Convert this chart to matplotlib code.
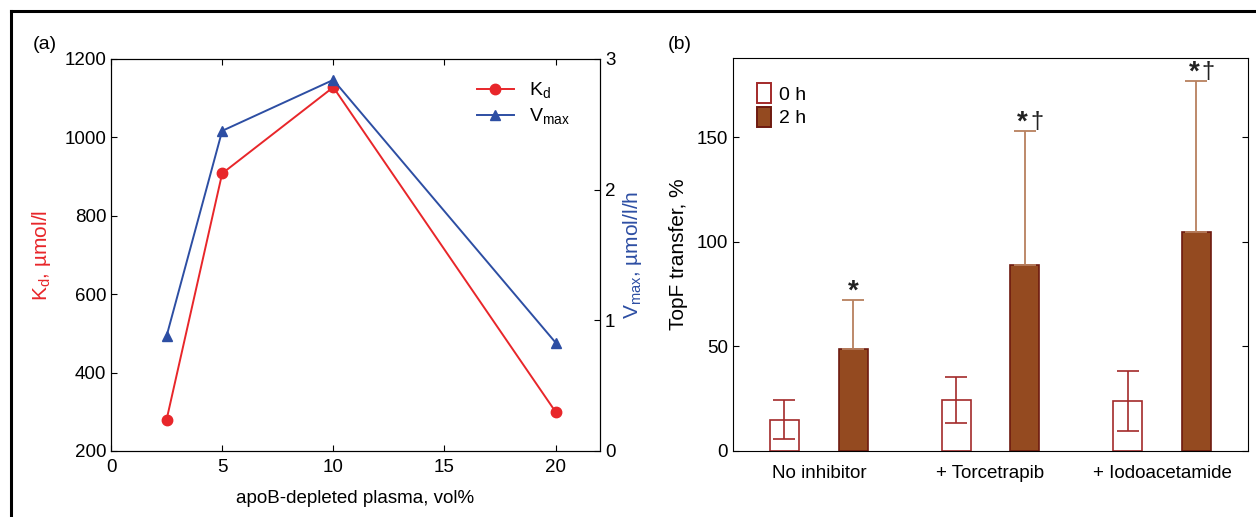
import numpy as np
import matplotlib
matplotlib.use("Agg")
import matplotlib.pyplot as plt
from matplotlib.patches import Patch
from matplotlib.lines import Line2D

plt.rcParams['font.family'] = ['Liberation Sans', 'DejaVu Sans']

# Panel (a) data
plasma = [2.5, 5, 10, 20]
kd = [280, 908, 1128, 300]
vmax = [0.88, 2.45, 2.84, 0.83]

# Panel (b) data
groups = ["No inhibitor", "+ Torcetrapib", "+ Iodoacetamide"]
mean_0h = [15, 24.5, 24]
sd_0h = [9.3, 11, 14.3]
mean_2h = [49, 89, 105]
sd_2h = [23, 64, 72]
marks = ["*", "*†", "*†"]

red = "#e8262a"
blue = "#2d4ea3"
brown = "#944a20"
dark = "#6e1a10"
open_edge = "#a32a2a"
err_2h = "#b8805e"

fig = plt.figure(figsize=(12.56, 5.17), dpi=100)

# figure frame (top and left only)
fig.add_artist(Line2D([0.009, 1.0], [0.978, 0.978], color="black", lw=2.2))
fig.add_artist(Line2D([0.009, 0.009], [0.0, 0.978], color="black", lw=2.2))

# ---- panel (a)
ax1 = fig.add_axes([0.0884, 0.1277, 0.3893, 0.7582])
ax2 = ax1.twinx()
l1, = ax1.plot(plasma, kd, color=red, marker="o", ms=7.5, lw=1.4, label="K$_\\mathregular{d}$")
l2, = ax2.plot(plasma, vmax, color=blue, marker="^", ms=7.5, lw=1.4, label="V$_\\mathregular{max}$")
ax1.set_xlim(0, 22)
ax1.set_ylim(200, 1200)
ax2.set_ylim(0, 3)
ax1.set_xticks([0, 5, 10, 15, 20])
ax1.set_yticks([200, 400, 600, 800, 1000, 1200])
ax2.set_yticks([0, 1, 2, 3])
ax1.tick_params(direction="in", top=True, labelsize=13.5, length=4)
ax2.tick_params(direction="in", labelsize=13.5, length=4)
ax1.tick_params(axis="x", pad=6)
ax1.set_xlabel("apoB-depleted plasma, vol%", fontsize=13.5, labelpad=10)
ax1.set_ylabel("K$_\\mathregular{d}$, µmol/l", fontsize=15, color=red, labelpad=8)
ax2.set_ylabel("V$_\\mathregular{max}$, µmol/l/h", fontsize=15, color=blue, labelpad=4)
ax1.legend(handles=[l1, l2], loc="upper right", bbox_to_anchor=(0.975, 0.99),
           frameon=False, fontsize=14, handlelength=1.9, labelspacing=0.3)
fig.text(0.026, 0.905, "(a)", fontsize=14)

# ---- panel (b)
ax3 = fig.add_axes([0.5836, 0.1277, 0.41, 0.7601])
x = np.arange(len(groups))
w = 0.17
off = 0.2
ax3.bar(x - off, mean_0h, w, facecolor="white", edgecolor=open_edge, lw=1.2,
        yerr=sd_0h, error_kw=dict(ecolor=open_edge, elinewidth=1.2, capsize=8, capthick=1.2))
ax3.bar(x + off, mean_2h, w, facecolor=brown, edgecolor=dark, lw=1.2)
ax3.errorbar(x + off, mean_2h, yerr=[np.zeros(3), sd_2h], fmt="none",
             ecolor=err_2h, elinewidth=1.3, capsize=8, capthick=1.3)
for i in range(len(groups)):
    top = mean_2h[i] + sd_2h[i]
    if marks[i] == "*":
        ax3.text(x[i] + off, top - 2, "*", ha="center", va="bottom", fontsize=20,
                 fontweight="bold", color="#222222")
    else:
        ax3.text(x[i] + off - 0.015, top - 2, "*", ha="center", va="bottom", fontsize=20,
                 fontweight="bold", color="#222222")
        ax3.text(x[i] + off + 0.07, top - 1, "†", ha="center", va="bottom", fontsize=17,
                 color="#222222")
ax3.set_xlim(-0.5, 2.5)
ax3.set_ylim(0, 188)
ax3.set_xticks(x)
ax3.set_xticklabels(groups)
ax3.set_yticks([0, 50, 100, 150])
ax3.tick_params(axis="y", direction="in", right=True, labelsize=13.5, length=4)
ax3.tick_params(axis="x", length=0, labelsize=13.5, pad=10)
ax3.set_ylabel("TopF transfer, %", fontsize=15, labelpad=6)
handles = [Patch(facecolor="white", edgecolor=open_edge, lw=1.4, label="0 h"),
           Patch(facecolor=brown, edgecolor=dark, lw=1.4, label="2 h")]
ax3.legend(handles=handles, loc="upper left", bbox_to_anchor=(0.02, 0.97), frameon=False,
           fontsize=14, handlelength=0.75, handleheight=1.2, handletextpad=0.4,
           labelspacing=0.15, borderaxespad=0.3)
fig.text(0.532, 0.905, "(b)", fontsize=14)

fig.savefig("out.png", dpi=100)
